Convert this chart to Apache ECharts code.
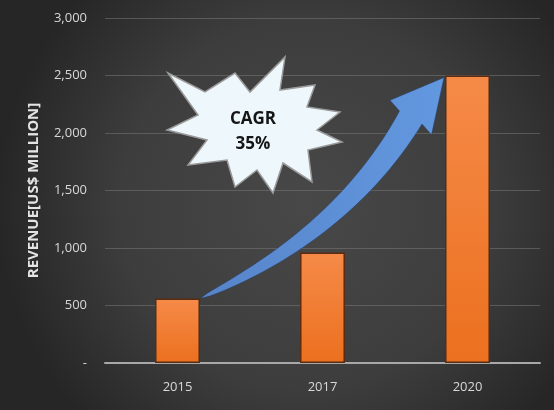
<!DOCTYPE html>
<html><head><meta charset="utf-8">
<script src="https://cdn.jsdelivr.net/npm/echarts@6/dist/echarts.min.js"></script>
<style>html,body{margin:0;padding:0;background:#333;}#c{width:554px;height:410px;}</style>
</head><body><div id="c"></div>
<script>
const categories = ['2015', '2017', '2020'];
const revenue = [560, 960, 2500];
const yTicks = [0, 500, 1000, 1500, 2000, 2500, 3000];
const axisTitle = 'REVENUE[US$ MILLION]';
const cagrLabel = ['CAGR', '35%'];
// arrow runs from first bar top to last bar top
const arrowFrom = 0, arrowTo = 2;

const chart = echarts.init(document.getElementById('c'), null, {renderer: 'canvas'});

function arrowRender(params, api) {
  const bw = api.size([1, 0])[0] * 0.31;
  const a = api.coord([arrowFrom, revenue[arrowFrom]]);
  const b = api.coord([arrowTo, revenue[arrowTo]]);
  const P0 = [a[0] + bw / 2 + 2, a[1] - 1];
  const tip = [b[0] - bw / 2 - 1, b[1] + 2];
  const dir = [0.64, -0.77];
  const headLen = 52, headHalf = 27, shaftHalf = 13;
  const H = [tip[0] - dir[0] * headLen, tip[1] - dir[1] * headLen];
  const C = [P0[0] + 0.68 * (H[0] - P0[0]), P0[1] + 0.36 * (H[1] - P0[1])];
  const N = 40, up = [], low = [];
  for (let i = 0; i <= N; i++) {
    const t = i / N;
    const x = (1 - t) * (1 - t) * P0[0] + 2 * (1 - t) * t * C[0] + t * t * H[0];
    const y = (1 - t) * (1 - t) * P0[1] + 2 * (1 - t) * t * C[1] + t * t * H[1];
    let dx = 2 * (1 - t) * (C[0] - P0[0]) + 2 * t * (H[0] - C[0]);
    let dy = 2 * (1 - t) * (C[1] - P0[1]) + 2 * t * (H[1] - C[1]);
    const L = Math.hypot(dx, dy); dx /= L; dy /= L;
    const nx = dy, ny = -dx;
    const w = 0.5 + (shaftHalf - 0.5) * Math.pow(t, 0.6);
    up.push([x + nx * w, y + ny * w]);
    low.push([x - nx * w, y - ny * w]);
  }
  const nx = dir[1], ny = -dir[0];
  const pts = up.concat([
    [H[0] + nx * headHalf, H[1] + ny * headHalf],
    tip,
    [H[0] - nx * headHalf, H[1] - ny * headHalf]
  ]).concat(low.reverse());
  return {
    type: 'polygon',
    shape: {points: pts},
    style: {
      fill: new echarts.graphic.LinearGradient(0, 0, 1, 0, [
        {offset: 0, color: '#5784c9'}, {offset: 1, color: '#6298e0'}
      ]),
      stroke: 'rgba(40,60,100,0.5)', lineWidth: 1
    },
    z2: 10
  };
}

const star = [[168,73],[205,92],[235,73],[250,92],[285,57],[280,90],[315,85],[307,107],[340,112],[317,130],[342,142],[308,150],[312,182],[283,163],[273,193],[257,170],[235,187],[227,160],[188,165],[207,140],[167,130],[198,115]];

chart.setOption({
  backgroundColor: new echarts.graphic.RadialGradient(0.55, 0.5, 0.75, [
    {offset: 0, color: '#484848'}, {offset: 0.6, color: '#3d3d3d'}, {offset: 1, color: '#262626'}
  ]),
  animation: false,
  grid: {left: 105, right: 14, top: 18, bottom: 47},
  xAxis: {
    type: 'category', data: categories,
    axisLine: {lineStyle: {color: '#a8a8a8', width: 2}},
    axisTick: {show: false},
    axisLabel: {color: '#d8d8d8', fontSize: 13, fontFamily: 'Open Sans', margin: 18}
  },
  yAxis: {
    type: 'value', min: 0, max: 3000, interval: 500,
    name: axisTitle, nameLocation: 'middle', nameRotate: 90, nameGap: 64,
    nameTextStyle: {color: '#e4e4e4', fontSize: 15, fontWeight: 'bold', fontFamily: 'Open Sans'},
    axisLine: {show: false}, axisTick: {show: false},
    splitLine: {lineStyle: {color: 'rgba(120,120,120,0.55)', width: 1}},
    axisLabel: {
      color: '#d8d8d8', fontSize: 13, fontFamily: 'Open Sans', margin: 18,
      formatter: v => v === 0 ? '-' : v.toLocaleString('en-US')
    }
  },
  series: [
    {
      type: 'bar', data: revenue, barWidth: '31%',
      itemStyle: {
        color: new echarts.graphic.LinearGradient(0, 0, 0, 1, [
          {offset: 0, color: '#f58a48'}, {offset: 1, color: '#ec701f'}
        ]),
        borderColor: '#5a2c12', borderWidth: 1.5
      }
    },
    {
      type: 'custom', renderItem: arrowRender, data: [0],
      coordinateSystem: 'cartesian2d', z: 5, silent: true
    }
  ],
  graphic: [
    {
      type: 'polygon', shape: {points: star}, z: 10,
      style: {fill: '#eef7fb', stroke: '#9a9a9a', lineWidth: 1.5}
    },
    {
      type: 'text', x: 253, y: 132, z: 11,
      style: {
        text: cagrLabel.join('\n'), fill: '#151515',
        font: 'bold 17px "Open Sans"', align: 'center', verticalAlign: 'middle', lineHeight: 25
      }
    }
  ]
});
</script></body></html>
